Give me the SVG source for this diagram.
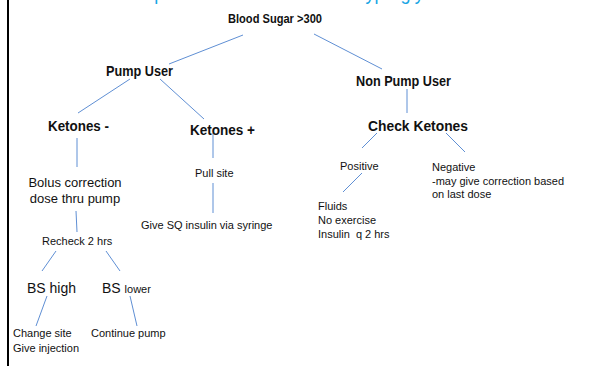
<svg xmlns="http://www.w3.org/2000/svg" width="594" height="366" viewBox="0 0 594 366">
<style>
text{font-family:"Liberation Sans",Arial,sans-serif;fill:#111;}
.b{font-weight:bold;font-size:14px;}
.r{font-size:11px;}
.m{font-size:13px;}
.t{font-size:20px;fill:#1aa6e4;}
#connectors line{stroke:#5f8fd4;stroke-width:1;}
</style>
<rect width="594" height="366" fill="#fff"/>
<line x1="8" y1="0" x2="8" y2="366" stroke="#000" stroke-width="2"/>
<text class="t" x="117" y="0" textLength="355" lengthAdjust="spacingAndGlyphs">Pump Protocol: Treatment of Hyperglycemia</text>
<g id="connectors">
<line x1="243" y1="35" x2="169" y2="64"/>
<line x1="314" y1="34" x2="382" y2="69"/>
<line x1="130" y1="79" x2="78" y2="113"/>
<line x1="160" y1="79" x2="204" y2="119"/>
<line x1="77" y1="138" x2="77" y2="167"/>
<line x1="213" y1="133" x2="213" y2="158"/>
<line x1="213" y1="183" x2="213" y2="213"/>
<line x1="76" y1="211" x2="77" y2="232"/>
<line x1="56" y1="251" x2="42" y2="271"/>
<line x1="106" y1="251" x2="120" y2="271"/>
<line x1="47" y1="296" x2="36" y2="326"/>
<line x1="130" y1="296" x2="137" y2="326"/>
<line x1="407" y1="89" x2="407" y2="113"/>
<line x1="377" y1="133" x2="362" y2="148"/>
<line x1="446" y1="133" x2="465" y2="152"/>
<line x1="362" y1="173" x2="343" y2="192"/>
</g>
<g id="blood-sugar"><text class="b" x="228" y="23" style="font-size:13px" textLength="94" lengthAdjust="spacingAndGlyphs">Blood Sugar &gt;300</text></g>
<g id="pump-user"><text class="b" x="106" y="76" textLength="67" lengthAdjust="spacingAndGlyphs">Pump User</text></g>
<g id="non-pump-user"><text class="b" x="356" y="86" textLength="95" lengthAdjust="spacingAndGlyphs">Non Pump User</text></g>
<g id="ketones-neg"><text class="b" x="48" y="131" textLength="61" lengthAdjust="spacingAndGlyphs">Ketones -</text></g>
<g id="ketones-pos"><text class="b" x="190" y="135" textLength="65" lengthAdjust="spacingAndGlyphs">Ketones +</text></g>
<g id="check-ketones"><text class="b" x="368" y="131" style="font-size:14.5px" textLength="100" lengthAdjust="spacingAndGlyphs">Check Ketones</text></g>
<g id="bolus"><text class="m" x="75" y="187" text-anchor="middle">Bolus correction</text><text class="m" x="75" y="203" text-anchor="middle">dose thru pump</text></g>
<g id="pull-site"><text class="r" x="195" y="177">Pull site</text></g>
<g id="give-sq"><text class="r" x="141" y="229">Give SQ insulin via syringe</text></g>
<g id="recheck"><text class="r" x="42" y="245">Recheck 2 hrs</text></g>
<g id="bs-high"><text x="27" y="293" style="font-size:14px">BS high</text></g>
<g id="bs-lower"><text x="102" y="293" style="font-size:14px">BS <tspan style="font-size:11px">lower</tspan></text></g>
<g id="change-site"><text class="r" x="13" y="337">Change site</text><text class="r" x="13" y="352">Give injection</text></g>
<g id="continue-pump"><text class="r" x="91" y="337">Continue pump</text></g>
<g id="positive"><text class="r" x="340" y="170">Positive</text></g>
<g id="negative"><text class="r" x="432" y="171">Negative</text><text class="r" x="432" y="185">-may give correction based</text><text class="r" x="432" y="198">on last dose</text></g>
<g id="fluids"><text class="r" x="318" y="210">Fluids</text><text class="r" x="318" y="224">No exercise</text><text class="r" x="318" y="238" xml:space="preserve">Insulin  q 2 hrs</text></g>
</svg>
